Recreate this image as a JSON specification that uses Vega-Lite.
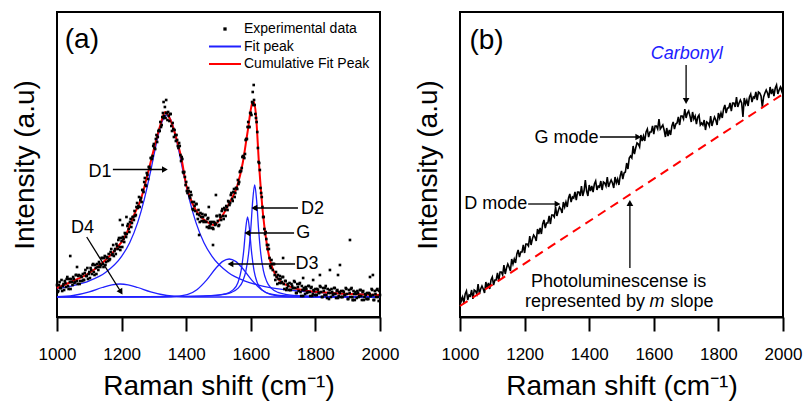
{
"$schema": "https://vega.github.io/schema/vega-lite/v6.json",
"background": "white",
"padding": {"left": 10, "top": 11, "right": 0, "bottom": 0},
"spacing": 13,
"config": {
  "font": "Liberation Sans",
  "view": {"stroke": "black", "strokeWidth": 2},
  "axis": {"grid": false, "domainColor": "black", "domainWidth": 2, "tickColor": "black", "tickWidth": 2, "labelColor": "black", "titleColor": "black", "labelFont": "Liberation Sans", "titleFont": "Liberation Sans", "titleFontWeight": "normal"},
  "legend": {"labelFont": "Liberation Sans"},
  "text": {"font": "Liberation Sans"}
},
"datasets": {
  "fits": [
    {"peak":"D1","x":1000,"y":8.4},{"peak":"D1","x":1050,"y":11.4},{"peak":"D1","x":1100,"y":16.2},{"peak":"D1","x":1150,"y":24.5},{"peak":"D1","x":1200,"y":40.6},{"peak":"D1","x":1225,"y":54.3},{"peak":"D1","x":1250,"y":74.6},{"peak":"D1","x":1270,"y":97.3},{"peak":"D1","x":1290,"y":126},{"peak":"D1","x":1310,"y":157},{"peak":"D1","x":1325,"y":175},{"peak":"D1","x":1333,"y":180},{"peak":"D1","x":1340,"y":182},{"peak":"D1","x":1347,"y":180},{"peak":"D1","x":1355,"y":175},{"peak":"D1","x":1370,"y":157},{"peak":"D1","x":1390,"y":126},{"peak":"D1","x":1410,"y":97.3},{"peak":"D1","x":1430,"y":74.6},{"peak":"D1","x":1455,"y":54.3},{"peak":"D1","x":1480,"y":40.6},{"peak":"D1","x":1530,"y":24.5},{"peak":"D1","x":1580,"y":16.2},{"peak":"D1","x":1630,"y":11.4},{"peak":"D1","x":1680,"y":8.4},{"peak":"D1","x":1750,"y":5.9},{"peak":"D1","x":1850,"y":3.9},{"peak":"D1","x":2000,"y":2.3},
    {"peak":"D2","x":1000,"y":0.1},{"peak":"D2","x":1400,"y":0.56},{"peak":"D2","x":1500,"y":1.97},{"peak":"D2","x":1540,"y":4.67},{"peak":"D2","x":1560,"y":8.6},{"peak":"D2","x":1575,"y":15.8},{"peak":"D2","x":1585,"y":26.4},{"peak":"D2","x":1593,"y":43},{"peak":"D2","x":1600,"y":68.3},{"peak":"D2","x":1606,"y":96.6},{"peak":"D2","x":1612,"y":112},{"peak":"D2","x":1618,"y":96.6},{"peak":"D2","x":1624,"y":68.3},{"peak":"D2","x":1631,"y":43},{"peak":"D2","x":1639,"y":26.4},{"peak":"D2","x":1649,"y":15.8},{"peak":"D2","x":1664,"y":8.6},{"peak":"D2","x":1684,"y":4.67},{"peak":"D2","x":1724,"y":1.97},{"peak":"D2","x":1800,"y":0.71},{"peak":"D2","x":2000,"y":0.17},
    {"peak":"G","x":1000,"y":0.05},{"peak":"G","x":1400,"y":0.43},{"peak":"G","x":1480,"y":1.28},{"peak":"G","x":1520,"y":3.08},{"peak":"G","x":1545,"y":7.1},{"peak":"G","x":1560,"y":14.3},{"peak":"G","x":1570,"y":26.3},{"peak":"G","x":1578,"y":46.1},{"peak":"G","x":1584,"y":67.6},{"peak":"G","x":1590,"y":80},{"peak":"G","x":1596,"y":67.6},{"peak":"G","x":1602,"y":46.1},{"peak":"G","x":1610,"y":26.3},{"peak":"G","x":1620,"y":14.3},{"peak":"G","x":1635,"y":7.1},{"peak":"G","x":1660,"y":3.08},{"peak":"G","x":1700,"y":1.28},{"peak":"G","x":1800,"y":0.35},{"peak":"G","x":2000,"y":0.09},
    {"peak":"D3","x":1000,"y":0},{"peak":"D3","x":1300,"y":0},{"peak":"D3","x":1353,"y":0.18},{"peak":"D3","x":1403,"y":2.3},{"peak":"D3","x":1433,"y":7.3},{"peak":"D3","x":1463,"y":16.9},{"peak":"D3","x":1493,"y":29.2},{"peak":"D3","x":1513,"y":35.6},{"peak":"D3","x":1533,"y":38},{"peak":"D3","x":1553,"y":35.6},{"peak":"D3","x":1573,"y":29.2},{"peak":"D3","x":1603,"y":16.9},{"peak":"D3","x":1633,"y":7.3},{"peak":"D3","x":1663,"y":2.3},{"peak":"D3","x":1713,"y":0.18},{"peak":"D3","x":1800,"y":0},{"peak":"D3","x":2000,"y":0},
    {"peak":"D4","x":1000,"y":0.27},{"peak":"D4","x":1050,"y":1.5},{"peak":"D4","x":1100,"y":5.2},{"peak":"D4","x":1140,"y":9.5},{"peak":"D4","x":1170,"y":12.2},{"peak":"D4","x":1195,"y":13},{"peak":"D4","x":1220,"y":12.2},{"peak":"D4","x":1250,"y":9.5},{"peak":"D4","x":1290,"y":5.2},{"peak":"D4","x":1340,"y":1.5},{"peak":"D4","x":1390,"y":0.27},{"peak":"D4","x":1450,"y":0.02},{"peak":"D4","x":2000,"y":0}
  ],
  "cumul": [
    {"x":1000,"y":9},{"x":1050,"y":16},{"x":1100,"y":24},{"x":1140,"y":34},{"x":1180,"y":47},{"x":1210,"y":60},{"x":1240,"y":83},{"x":1260,"y":98},{"x":1280,"y":122},{"x":1300,"y":148},{"x":1320,"y":172},{"x":1335,"y":185},{"x":1350,"y":178},{"x":1370,"y":158},{"x":1385,"y":139},{"x":1400,"y":112},{"x":1420,"y":93},{"x":1440,"y":82},{"x":1465,"y":75},{"x":1485,"y":72},{"x":1505,"y":78},{"x":1535,"y":95},{"x":1557,"y":110},{"x":1575,"y":134},{"x":1590,"y":165},{"x":1605,"y":194},{"x":1610,"y":195},{"x":1616,"y":182},{"x":1625,"y":135},{"x":1638,"y":82},{"x":1650,"y":52},{"x":1660,"y":36},{"x":1680,"y":20},{"x":1710,"y":12},{"x":1760,"y":7},{"x":1850,"y":4},{"x":1950,"y":2.5},{"x":2000,"y":2}
  ],
  "expA": [
    {"x":1000,"y":12},{"x":1004,"y":6},{"x":1008,"y":15},{"x":1012,"y":9},{"x":1016,"y":6},{"x":1020,"y":13},{"x":1024,"y":16},{"x":1028,"y":10},{"x":1032,"y":20},{"x":1036,"y":8},{"x":1040,"y":15},{"x":1044,"y":18},{"x":1048,"y":12},{"x":1052,"y":18},{"x":1056,"y":15},{"x":1060,"y":22},{"x":1064,"y":13},{"x":1068,"y":22},{"x":1072,"y":16},{"x":1076,"y":20},{"x":1080,"y":23},{"x":1084,"y":17},{"x":1088,"y":27},{"x":1092,"y":21},{"x":1096,"y":18},{"x":1100,"y":25},{"x":1104,"y":29},{"x":1108,"y":23},{"x":1112,"y":33},{"x":1116,"y":22},{"x":1120,"y":29},{"x":1124,"y":33},{"x":1128,"y":27},{"x":1132,"y":33},{"x":1136,"y":32},{"x":1140,"y":39},{"x":1144,"y":30},{"x":1148,"y":41},{"x":1152,"y":35},{"x":1156,"y":39},{"x":1160,"y":43},{"x":1164,"y":38},{"x":1168,"y":48},{"x":1172,"y":43},{"x":1176,"y":41},{"x":1180,"y":48},{"x":1184,"y":53},{"x":1188,"y":48},{"x":1192,"y":59},{"x":1196,"y":47},{"x":1200,"y":56},{"x":1204,"y":60},{"x":1208,"y":55},{"x":1212,"y":63},{"x":1216,"y":63},{"x":1220,"y":73},{"x":1224,"y":65},{"x":1228,"y":78},{"x":1232,"y":74},{"x":1236,"y":80},{"x":1240,"y":86},{"x":1244,"y":82},{"x":1248,"y":94},{"x":1252,"y":91},{"x":1256,"y":90},{"x":1260,"y":99},{"x":1264,"y":107},{"x":1268,"y":105},{"x":1272,"y":119},{"x":1276,"y":111},{"x":1280,"y":122},{"x":1284,"y":130},{"x":1288,"y":128},{"x":1292,"y":139},{"x":1296,"y":141},{"x":1300,"y":153},{"x":1304,"y":148},{"x":1308,"y":162},{"x":1312,"y":160},{"x":1316,"y":167},{"x":1320,"y":175},{"x":1324,"y":172},{"x":1328,"y":184},{"x":1332,"y":181},{"x":1336,"y":179},{"x":1340,"y":184},{"x":1344,"y":185},{"x":1348,"y":176},{"x":1352,"y":183},{"x":1356,"y":166},{"x":1360,"y":168},{"x":1364,"y":167},{"x":1368,"y":156},{"x":1372,"y":157},{"x":1376,"y":149},{"x":1380,"y":151},{"x":1384,"y":136},{"x":1388,"y":138},{"x":1392,"y":124},{"x":1396,"y":120},{"x":1400,"y":115},{"x":1404,"y":104},{"x":1408,"y":106},{"x":1412,"y":99},{"x":1416,"y":102},{"x":1420,"y":88},{"x":1424,"y":95},{"x":1428,"y":86},{"x":1432,"y":93},{"x":1436,"y":78},{"x":1440,"y":82},{"x":1444,"y":84},{"x":1448,"y":76},{"x":1452,"y":80},{"x":1456,"y":76},{"x":1460,"y":82},{"x":1464,"y":70},{"x":1468,"y":79},{"x":1472,"y":71},{"x":1476,"y":73},{"x":1480,"y":75},{"x":1484,"y":68},{"x":1488,"y":74},{"x":1492,"y":73},{"x":1496,"y":81},{"x":1500,"y":71},{"x":1504,"y":82},{"x":1508,"y":77},{"x":1512,"y":88},{"x":1516,"y":78},{"x":1520,"y":87},{"x":1524,"y":91},{"x":1528,"y":87},{"x":1532,"y":95},{"x":1536,"y":94},{"x":1540,"y":104},{"x":1544,"y":96},{"x":1548,"y":108},{"x":1552,"y":104},{"x":1556,"y":109},{"x":1560,"y":117},{"x":1564,"y":115},{"x":1568,"y":126},{"x":1572,"y":129},{"x":1576,"y":141},{"x":1580,"y":139},{"x":1584,"y":157},{"x":1588,"y":158},{"x":1592,"y":175},{"x":1596,"y":170},{"x":1600,"y":184},{"x":1604,"y":195},{"x":1608,"y":192},{"x":1612,"y":192},{"x":1616,"y":179},{"x":1620,"y":165},{"x":1624,"y":135},{"x":1628,"y":127},{"x":1632,"y":104},{"x":1636,"y":90},{"x":1640,"y":80},{"x":1644,"y":63},{"x":1648,"y":58},{"x":1652,"y":48},{"x":1656,"y":48},{"x":1660,"y":31},{"x":1664,"y":37},{"x":1668,"y":27},{"x":1672,"y":33},{"x":1676,"y":17},{"x":1680,"y":20},{"x":1684,"y":22},{"x":1688,"y":14},{"x":1692,"y":18},{"x":1696,"y":15},{"x":1700,"y":20},{"x":1704,"y":8},{"x":1708,"y":16},{"x":1712,"y":9},{"x":1716,"y":11},{"x":1720,"y":14},{"x":1724,"y":7},{"x":1728,"y":11},{"x":1732,"y":9},{"x":1736,"y":15},{"x":1740,"y":4},{"x":1744,"y":13},{"x":1748,"y":6},{"x":1752,"y":14},{"x":1756,"y":1},{"x":1760,"y":7},{"x":1764,"y":9},{"x":1768,"y":3},{"x":1772,"y":8},{"x":1776,"y":5},{"x":1780,"y":11},{"x":1784,"y":1},{"x":1788,"y":10},{"x":1792,"y":3},{"x":1796,"y":6},{"x":1800,"y":8},{"x":1804,"y":2},{"x":1808,"y":7},{"x":1812,"y":4},{"x":1816,"y":10},{"x":1820,"y":0},{"x":1824,"y":9},{"x":1828,"y":2},{"x":1832,"y":11},{"x":1836,"y":-1},{"x":1840,"y":4},{"x":1844,"y":7},{"x":1848,"y":0},{"x":1852,"y":5},{"x":1856,"y":3},{"x":1860,"y":9},{"x":1864,"y":-1},{"x":1868,"y":7},{"x":1872,"y":1},{"x":1876,"y":4},{"x":1880,"y":6},{"x":1884,"y":0},{"x":1888,"y":5},{"x":1892,"y":2},{"x":1896,"y":8},{"x":1900,"y":-2},{"x":1904,"y":7},{"x":1908,"y":0},{"x":1912,"y":9},{"x":1916,"y":-3},{"x":1920,"y":3},{"x":1924,"y":5},{"x":1928,"y":-1},{"x":1932,"y":4},{"x":1936,"y":1},{"x":1940,"y":7},{"x":1944,"y":-3},{"x":1948,"y":6},{"x":1952,"y":0},{"x":1956,"y":2},{"x":1960,"y":4},{"x":1964,"y":-2},{"x":1968,"y":3},{"x":1972,"y":1},{"x":1976,"y":7},{"x":1980,"y":-3},{"x":1984,"y":6},{"x":1988,"y":0},{"x":1992,"y":8},{"x":1996,"y":-4},{"x":2000,"y":2},
    {"x":1002,"y":5},{"x":1006,"y":12},{"x":1010,"y":9},{"x":1014,"y":17},{"x":1018,"y":11},{"x":1022,"y":7},{"x":1026,"y":14},{"x":1030,"y":18},{"x":1034,"y":11},{"x":1038,"y":18},{"x":1042,"y":8},{"x":1046,"y":15},{"x":1050,"y":20},{"x":1054,"y":14},{"x":1058,"y":22},{"x":1062,"y":16},{"x":1066,"y":21},{"x":1070,"y":13},{"x":1074,"y":21},{"x":1078,"y":16},{"x":1082,"y":17},{"x":1086,"y":24},{"x":1090,"y":21},{"x":1094,"y":29},{"x":1098,"y":23},{"x":1102,"y":19},{"x":1106,"y":27},{"x":1110,"y":32},{"x":1114,"y":25},{"x":1118,"y":32},{"x":1122,"y":23},{"x":1126,"y":30},{"x":1130,"y":35},{"x":1134,"y":30},{"x":1138,"y":39},{"x":1142,"y":33},{"x":1146,"y":39},{"x":1150,"y":32},{"x":1154,"y":40},{"x":1158,"y":36},{"x":1162,"y":37},{"x":1166,"y":45},{"x":1170,"y":42},{"x":1174,"y":52},{"x":1178,"y":46},{"x":1182,"y":43},{"x":1186,"y":51},{"x":1190,"y":57},{"x":1194,"y":50},{"x":1198,"y":59},{"x":1202,"y":50},{"x":1206,"y":58},{"x":1210,"y":64},{"x":1214,"y":60},{"x":1218,"y":71},{"x":1222,"y":68},{"x":1226,"y":75},{"x":1230,"y":70},{"x":1234,"y":80},{"x":1238,"y":77},{"x":1242,"y":81},{"x":1246,"y":90},{"x":1250,"y":89},{"x":1254,"y":100},{"x":1258,"y":97},{"x":1262,"y":95},{"x":1266,"y":107},{"x":1270,"y":115},{"x":1274,"y":112},{"x":1278,"y":124},{"x":1282,"y":118},{"x":1286,"y":130},{"x":1290,"y":139},{"x":1294,"y":138},{"x":1298,"y":151},{"x":1302,"y":149},{"x":1306,"y":158},{"x":1310,"y":155},{"x":1314,"y":166},{"x":1318,"y":166},{"x":1322,"y":170},{"x":1326,"y":180},{"x":1330,"y":179},{"x":1334,"y":190},{"x":1338,"y":184},{"x":1342,"y":177},{"x":1346,"y":181},{"x":1350,"y":183},{"x":1354,"y":171},{"x":1358,"y":174},{"x":1362,"y":160},{"x":1366,"y":162},{"x":1370,"y":162},{"x":1374,"y":151},{"x":1378,"y":154},{"x":1382,"y":142},{"x":1386,"y":140},{"x":1390,"y":125},{"x":1394,"y":125},{"x":1398,"y":112},{"x":1402,"y":106},{"x":1406,"y":109},{"x":1410,"y":101},{"x":1414,"y":105},{"x":1418,"y":95},{"x":1422,"y":87},{"x":1426,"y":91},{"x":1430,"y":93},{"x":1434,"y":83},{"x":1438,"y":87},{"x":1442,"y":75},{"x":1446,"y":80},{"x":1450,"y":83},{"x":1454,"y":75},{"x":1458,"y":82},{"x":1462,"y":75},{"x":1466,"y":78},{"x":1470,"y":69},{"x":1474,"y":75},{"x":1478,"y":69},{"x":1482,"y":69},{"x":1486,"y":75},{"x":1490,"y":72},{"x":1494,"y":81},{"x":1498,"y":76},{"x":1502,"y":72},{"x":1506,"y":80},{"x":1510,"y":86},{"x":1514,"y":81},{"x":1518,"y":89},{"x":1522,"y":81},{"x":1526,"y":90},{"x":1530,"y":96},{"x":1534,"y":92},{"x":1538,"y":102},{"x":1542,"y":98},{"x":1546,"y":105},{"x":1550,"y":100},{"x":1554,"y":109},{"x":1558,"y":108},{"x":1562,"y":113},{"x":1566,"y":125},{"x":1570,"y":126},{"x":1574,"y":140},{"x":1578,"y":140},{"x":1582,"y":143},{"x":1586,"y":158},{"x":1590,"y":170},{"x":1594,"y":170},{"x":1598,"y":184},{"x":1602,"y":182},{"x":1606,"y":194},{"x":1610,"y":197},{"x":1614,"y":183},{"x":1618,"y":175},{"x":1622,"y":149},{"x":1626,"y":134},{"x":1630,"y":109},{"x":1634,"y":100},{"x":1638,"y":80},{"x":1642,"y":68},{"x":1646,"y":65},{"x":1650,"y":52},{"x":1654,"y":52},{"x":1658,"y":39},{"x":1662,"y":29},{"x":1666,"y":33},{"x":1670,"y":33},{"x":1674,"y":22},{"x":1678,"y":25},{"x":1682,"y":13},{"x":1686,"y":18},{"x":1690,"y":21},{"x":1694,"y":14},{"x":1698,"y":20},{"x":1702,"y":13},{"x":1706,"y":16},{"x":1710,"y":7},{"x":1714,"y":13},{"x":1718,"y":7},{"x":1722,"y":7},{"x":1726,"y":13},{"x":1730,"y":9},{"x":1734,"y":16},{"x":1738,"y":9},{"x":1742,"y":4},{"x":1746,"y":10},{"x":1750,"y":13},{"x":1754,"y":5},{"x":1758,"y":11},{"x":1762,"y":1},{"x":1766,"y":7},{"x":1770,"y":10},{"x":1774,"y":4},{"x":1778,"y":11},{"x":1782,"y":5},{"x":1786,"y":9},{"x":1790,"y":1},{"x":1794,"y":7},{"x":1798,"y":2},{"x":1802,"y":2},{"x":1806,"y":8},{"x":1810,"y":4},{"x":1814,"y":11},{"x":1818,"y":5},{"x":1822,"y":0},{"x":1826,"y":6},{"x":1830,"y":9},{"x":1834,"y":2},{"x":1838,"y":8},{"x":1842,"y":-2},{"x":1846,"y":4},{"x":1850,"y":8},{"x":1854,"y":2},{"x":1858,"y":9},{"x":1862,"y":3},{"x":1866,"y":6},{"x":1870,"y":-1},{"x":1874,"y":5},{"x":1878,"y":0},{"x":1882,"y":0},{"x":1886,"y":6},{"x":1890,"y":2},{"x":1894,"y":9},{"x":1898,"y":3},{"x":1902,"y":-2},{"x":1906,"y":4},{"x":1910,"y":8},{"x":1914,"y":0},{"x":1918,"y":6},{"x":1922,"y":-3},{"x":1926,"y":3},{"x":1930,"y":6},{"x":1934,"y":0},{"x":1938,"y":7},{"x":1942,"y":1},{"x":1946,"y":5},{"x":1950,"y":-3},{"x":1954,"y":3},{"x":1958,"y":-2},{"x":1962,"y":-2},{"x":1966,"y":4},{"x":1970,"y":1},{"x":1974,"y":8},{"x":1978,"y":2},{"x":1982,"y":-3},{"x":1986,"y":3},{"x":1990,"y":7},{"x":1994,"y":0},{"x":1998,"y":6},
    {"x":1041,"y":41},{"x":1062,"y":30},{"x":1195,"y":77},{"x":1203,"y":72},{"x":1215,"y":80},{"x":1483,"y":52},{"x":1492,"y":102},{"x":1330,"y":195},{"x":1338,"y":197},{"x":1609,"y":212},{"x":1606,"y":205},{"x":1700,"y":39},{"x":1762,"y":19},{"x":1793,"y":17},{"x":1814,"y":22},{"x":1845,"y":27},{"x":1870,"y":22},{"x":1876,"y":32},{"x":1907,"y":57},{"x":1916,"y":-3},{"x":1969,"y":20},{"x":1978,"y":22},{"x":1440,"y":62},{"x":1470,"y":90}
  ],
  "lineB": [
    {"x":1000,"y":22},{"x":1004,"y":16},{"x":1008,"y":20},{"x":1012,"y":14},{"x":1016,"y":23},{"x":1020,"y":26},{"x":1024,"y":17},{"x":1028,"y":22},{"x":1032,"y":21},{"x":1036,"y":27},{"x":1040,"y":18},{"x":1044,"y":27},{"x":1048,"y":26},{"x":1052,"y":23},{"x":1056,"y":33},{"x":1060,"y":23},{"x":1064,"y":28},{"x":1068,"y":31},{"x":1072,"y":28},{"x":1076,"y":24},{"x":1080,"y":35},{"x":1084,"y":29},{"x":1088,"y":34},{"x":1092,"y":28},{"x":1096,"y":37},{"x":1100,"y":40},{"x":1104,"y":32},{"x":1108,"y":37},{"x":1112,"y":37},{"x":1116,"y":44},{"x":1120,"y":36},{"x":1124,"y":45},{"x":1128,"y":45},{"x":1132,"y":42},{"x":1136,"y":52},{"x":1140,"y":43},{"x":1144,"y":49},{"x":1148,"y":53},{"x":1152,"y":50},{"x":1156,"y":46},{"x":1160,"y":58},{"x":1164,"y":53},{"x":1168,"y":58},{"x":1172,"y":54},{"x":1176,"y":63},{"x":1180,"y":67},{"x":1184,"y":60},{"x":1188,"y":65},{"x":1192,"y":65},{"x":1196,"y":72},{"x":1200,"y":64},{"x":1204,"y":73},{"x":1208,"y":73},{"x":1212,"y":71},{"x":1216,"y":81},{"x":1220,"y":72},{"x":1224,"y":78},{"x":1228,"y":82},{"x":1232,"y":80},{"x":1236,"y":76},{"x":1240,"y":88},{"x":1244,"y":83},{"x":1248,"y":89},{"x":1252,"y":83},{"x":1256,"y":93},{"x":1260,"y":97},{"x":1264,"y":89},{"x":1268,"y":94},{"x":1272,"y":94},{"x":1276,"y":101},{"x":1280,"y":93},{"x":1284,"y":102},{"x":1288,"y":102},{"x":1292,"y":100},{"x":1296,"y":110},{"x":1300,"y":101},{"x":1304,"y":106},{"x":1308,"y":110},{"x":1312,"y":108},{"x":1316,"y":104},{"x":1320,"y":115},{"x":1324,"y":110},{"x":1328,"y":115},{"x":1332,"y":110},{"x":1336,"y":119},{"x":1340,"y":123},{"x":1344,"y":115},{"x":1348,"y":120},{"x":1352,"y":119},{"x":1356,"y":125},{"x":1360,"y":117},{"x":1364,"y":125},{"x":1368,"y":125},{"x":1372,"y":121},{"x":1376,"y":131},{"x":1380,"y":121},{"x":1384,"y":126},{"x":1388,"y":137},{"x":1392,"y":126},{"x":1396,"y":121},{"x":1400,"y":132},{"x":1404,"y":126},{"x":1408,"y":131},{"x":1412,"y":125},{"x":1416,"y":133},{"x":1420,"y":136},{"x":1424,"y":127},{"x":1428,"y":131},{"x":1432,"y":130},{"x":1436,"y":136},{"x":1440,"y":127},{"x":1444,"y":135},{"x":1448,"y":134},{"x":1452,"y":131},{"x":1456,"y":140},{"x":1460,"y":130},{"x":1464,"y":134},{"x":1468,"y":137},{"x":1472,"y":134},{"x":1476,"y":129},{"x":1480,"y":140},{"x":1484,"y":134},{"x":1488,"y":138},{"x":1492,"y":132},{"x":1496,"y":141},{"x":1500,"y":146},{"x":1504,"y":138},{"x":1508,"y":144},{"x":1512,"y":145},{"x":1516,"y":154},{"x":1520,"y":148},{"x":1524,"y":159},{"x":1528,"y":161},{"x":1532,"y":159},{"x":1536,"y":171},{"x":1540,"y":163},{"x":1544,"y":169},{"x":1548,"y":174},{"x":1552,"y":173},{"x":1556,"y":170},{"x":1560,"y":182},{"x":1564,"y":176},{"x":1568,"y":181},{"x":1572,"y":176},{"x":1576,"y":185},{"x":1580,"y":188},{"x":1584,"y":180},{"x":1588,"y":185},{"x":1592,"y":185},{"x":1596,"y":191},{"x":1600,"y":183},{"x":1604,"y":191},{"x":1608,"y":191},{"x":1612,"y":188},{"x":1616,"y":198},{"x":1620,"y":188},{"x":1624,"y":190},{"x":1628,"y":192},{"x":1632,"y":187},{"x":1636,"y":180},{"x":1640,"y":189},{"x":1644,"y":181},{"x":1648,"y":187},{"x":1652,"y":182},{"x":1656,"y":191},{"x":1660,"y":195},{"x":1664,"y":188},{"x":1668,"y":193},{"x":1672,"y":194},{"x":1676,"y":200},{"x":1680,"y":192},{"x":1684,"y":201},{"x":1688,"y":201},{"x":1692,"y":198},{"x":1696,"y":208},{"x":1700,"y":199},{"x":1704,"y":204},{"x":1708,"y":206},{"x":1712,"y":201},{"x":1716,"y":195},{"x":1720,"y":205},{"x":1724,"y":198},{"x":1728,"y":201},{"x":1732,"y":193},{"x":1736,"y":200},{"x":1740,"y":202},{"x":1744,"y":192},{"x":1748,"y":194},{"x":1752,"y":192},{"x":1756,"y":197},{"x":1760,"y":187},{"x":1764,"y":195},{"x":1768,"y":194},{"x":1772,"y":191},{"x":1776,"y":201},{"x":1780,"y":191},{"x":1784,"y":196},{"x":1788,"y":200},{"x":1792,"y":197},{"x":1796,"y":192},{"x":1800,"y":204},{"x":1804,"y":199},{"x":1808,"y":204},{"x":1812,"y":199},{"x":1816,"y":208},{"x":1820,"y":212},{"x":1824,"y":204},{"x":1828,"y":209},{"x":1832,"y":209},{"x":1836,"y":214},{"x":1840,"y":206},{"x":1844,"y":214},{"x":1848,"y":214},{"x":1852,"y":210},{"x":1856,"y":220},{"x":1860,"y":210},{"x":1864,"y":214},{"x":1868,"y":217},{"x":1872,"y":214},{"x":1876,"y":200},{"x":1880,"y":219},{"x":1884,"y":213},{"x":1888,"y":217},{"x":1892,"y":211},{"x":1896,"y":220},{"x":1900,"y":223},{"x":1904,"y":215},{"x":1908,"y":220},{"x":1912,"y":219},{"x":1916,"y":225},{"x":1920,"y":217},{"x":1924,"y":225},{"x":1928,"y":224},{"x":1932,"y":221},{"x":1936,"y":210},{"x":1940,"y":220},{"x":1944,"y":224},{"x":1948,"y":227},{"x":1952,"y":224},{"x":1956,"y":219},{"x":1960,"y":230},{"x":1964,"y":223},{"x":1968,"y":228},{"x":1972,"y":221},{"x":1976,"y":229},{"x":1980,"y":232},{"x":1984,"y":223},{"x":1988,"y":227},{"x":1992,"y":230},{"x":1996,"y":226},{"x":2000,"y":232}
  ],
  "dashB": [{"x":1000,"y":11},{"x":2000,"y":223}],
  "arrowsA": [
    {"x":1173,"y":127.5,"x2":1334,"y2":127.5,"angle":90},
    {"x":1746,"y":89,"x2":1611,"y2":89,"angle":270},
    {"x":1734,"y":64,"x2":1589,"y2":64,"angle":270},
    {"x":1737,"y":33,"x2":1537,"y2":33,"angle":270},
    {"x":1092,"y":60,"x2":1198,"y2":5,"angle":148}
  ],
  "annA": [
    {"label":"D1","x":1133,"y":125},{"label":"D2","x":1791,"y":88},{"label":"G","x":1762,"y":64},{"label":"D3","x":1774,"y":33},{"label":"D4","x":1079,"y":69}
  ],
  "arrowsB": [
    {"x":1700,"y":252,"x2":1700,"y2":216,"angle":180},
    {"x":1433,"y":180,"x2":1552,"y2":180,"angle":90},
    {"x":1211,"y":113,"x2":1302,"y2":113,"angle":90},
    {"x":1526,"y":49,"x2":1526,"y2":114,"angle":0}
  ],
  "annB": [
    {"label":"G mode","x":1330,"y":179.5},{"label":"D mode","x":1111,"y":113},{"label":"Photoluminescense is","x":1491,"y":35}
  ]
},
"hconcat": [
  {
    "width": 323, "height": 305,
    "layer": [
      {
        "data": {"name": "fits"},
        "mark": {"type": "line", "strokeWidth": 1.3, "interpolate": "monotone"},
        "encoding": {
          "x": {"field": "x", "type": "quantitative", "scale": {"domain": [1000, 2000], "nice": false, "zero": false},
                "axis": {"values": [1000,1100,1200,1300,1400,1500,1600,1700,1800,1900,2000], "format": "d", "labelExpr": "datum.value % 200 === 0 ? datum.label : ''", "tickSize": {"condition": {"test": "datum.value % 200 === 0", "value": 14}, "value": 8}, "labelFontSize": 17, "labelPadding": 15, "labelFlush": false, "labelOverlap": false, "title": "Raman shift (cm⁻¹)", "titleFontSize": 28, "titlePadding": 10}},
          "y": {"field": "y", "type": "quantitative", "scale": {"domain": [-20, 285], "nice": false, "zero": false},
                "axis": {"ticks": false, "labels": false, "domain": false, "title": "Intensity (a.u)", "titleFontSize": 28, "titlePadding": 18}},
          "detail": {"field": "peak"},
          "color": {"datum": "Fit peak", "scale": {"domain": ["Experimental data", "Fit peak", "Cumulative Fit Peak"], "range": ["black", "#2020ff", "#ff0000"]},
                    "legend": {"title": null, "orient": "none", "legendX": 159, "legendY": 8, "labelFont": "Liberation Sans", "labelFontSize": 14, "labelColor": "black", "symbolSize": 256, "symbolStrokeWidth": 2, "rowPadding": 1.5, "labelOffset": 10, "padding": 0}}
        }
      },
      {
        "data": {"name": "cumul"},
        "mark": {"type": "line", "strokeWidth": 2, "interpolate": "monotone"},
        "encoding": {
          "x": {"field": "x", "type": "quantitative"},
          "y": {"field": "y", "type": "quantitative"},
          "color": {"datum": "Cumulative Fit Peak"}
        }
      },
      {
        "data": {"name": "expA"},
        "mark": {"type": "point", "filled": false, "strokeWidth": 1.5, "size": 200, "opacity": 1},
        "encoding": {
          "x": {"field": "x", "type": "quantitative"},
          "y": {"field": "y", "type": "quantitative"},
          "color": {"datum": "Experimental data"},
          "shape": {"datum": "Experimental data", "scale": {"domain": ["Experimental data", "Fit peak", "Cumulative Fit Peak"], "range": ["M-0.08,-0.08H0.08V0.08H-0.08Z", "M-2,0H2", "M-2,0H2"]},
                    "legend": {"title": null, "orient": "none", "legendX": 159, "legendY": 8, "labelFont": "Liberation Sans", "labelFontSize": 14, "labelColor": "black", "symbolSize": 256, "symbolStrokeWidth": 2, "rowPadding": 1.5, "labelOffset": 10, "padding": 0}}
        }
      },
      {
        "data": {"name": "arrowsA"},
        "mark": {"type": "rule", "color": "black", "strokeWidth": 1.3},
        "encoding": {
          "x": {"field": "x", "type": "quantitative"},
          "y": {"field": "y", "type": "quantitative"},
          "x2": {"field": "x2"},
          "y2": {"field": "y2"}
        }
      },
      {
        "data": {"name": "arrowsA"},
        "mark": {"type": "point", "shape": "triangle-up", "filled": true, "color": "black", "size": 45, "opacity": 1},
        "encoding": {
          "x": {"field": "x2", "type": "quantitative"},
          "y": {"field": "y2", "type": "quantitative"},
          "angle": {"field": "angle", "type": "quantitative", "scale": null}
        }
      },
      {
        "data": {"name": "annA"},
        "mark": {"type": "text", "fontSize": 18, "color": "black", "align": "center", "baseline": "middle"},
        "encoding": {
          "x": {"field": "x", "type": "quantitative"},
          "y": {"field": "y", "type": "quantitative"},
          "text": {"field": "label"}
        }
      },
      {
        "data": {"values": [{"label": "(a)", "x": 1077, "y": 257}]},
        "mark": {"type": "text", "fontSize": 28, "color": "black", "align": "center", "baseline": "middle"},
        "encoding": {
          "x": {"field": "x", "type": "quantitative"},
          "y": {"field": "y", "type": "quantitative"},
          "text": {"field": "label"}
        }
      }
    ]
  },
  {
    "width": 323, "height": 305,
    "layer": [
      {
        "data": {"name": "lineB"},
        "mark": {"type": "line", "strokeWidth": 1.6, "color": "black"},
        "encoding": {
          "x": {"field": "x", "type": "quantitative", "scale": {"domain": [1000, 2000], "nice": false, "zero": false},
                "axis": {"values": [1000,1100,1200,1300,1400,1500,1600,1700,1800,1900,2000], "format": "d", "labelExpr": "datum.value % 200 === 0 ? datum.label : ''", "tickSize": {"condition": {"test": "datum.value % 200 === 0", "value": 14}, "value": 8}, "labelFontSize": 17, "labelPadding": 15, "labelFlush": false, "labelOverlap": false, "title": "Raman shift (cm⁻¹)", "titleFontSize": 28, "titlePadding": 10}},
          "y": {"field": "y", "type": "quantitative", "scale": {"domain": [0, 305], "nice": false, "zero": false},
                "axis": {"ticks": false, "labels": false, "domain": false, "title": "Intensity (a.u)", "titleFontSize": 28, "titlePadding": 18}}
        }
      },
      {
        "data": {"name": "dashB"},
        "mark": {"type": "line", "strokeWidth": 2, "color": "#ff0000", "strokeDash": [9, 6]},
        "encoding": {
          "x": {"field": "x", "type": "quantitative"},
          "y": {"field": "y", "type": "quantitative"}
        }
      },
      {
        "data": {"name": "arrowsB"},
        "mark": {"type": "rule", "color": "black", "strokeWidth": 1.3},
        "encoding": {
          "x": {"field": "x", "type": "quantitative"},
          "y": {"field": "y", "type": "quantitative"},
          "x2": {"field": "x2"},
          "y2": {"field": "y2"}
        }
      },
      {
        "data": {"name": "arrowsB"},
        "mark": {"type": "point", "shape": "triangle-up", "filled": true, "color": "black", "size": 45, "opacity": 1},
        "encoding": {
          "x": {"field": "x2", "type": "quantitative"},
          "y": {"field": "y2", "type": "quantitative"},
          "angle": {"field": "angle", "type": "quantitative", "scale": null}
        }
      },
      {
        "data": {"name": "annB"},
        "mark": {"type": "text", "fontSize": 18, "color": "black", "align": "center", "baseline": "middle"},
        "encoding": {
          "x": {"field": "x", "type": "quantitative"},
          "y": {"field": "y", "type": "quantitative"},
          "text": {"field": "label"}
        }
      },
      {
        "data": {"values": [{"label": "represented by", "x": 1573, "y": 15}]},
        "mark": {"type": "text", "fontSize": 18, "color": "black", "align": "right", "baseline": "middle"},
        "encoding": {
          "x": {"field": "x", "type": "quantitative"},
          "y": {"field": "y", "type": "quantitative"},
          "text": {"field": "label"}
        }
      },
      {
        "data": {"values": [{"label": "m", "x": 1610, "y": 15}]},
        "mark": {"type": "text", "fontSize": 18, "fontStyle": "italic", "color": "black", "align": "center", "baseline": "middle"},
        "encoding": {
          "x": {"field": "x", "type": "quantitative"},
          "y": {"field": "y", "type": "quantitative"},
          "text": {"field": "label"}
        }
      },
      {
        "data": {"values": [{"label": "slope", "x": 1652, "y": 15}]},
        "mark": {"type": "text", "fontSize": 18, "color": "black", "align": "left", "baseline": "middle"},
        "encoding": {
          "x": {"field": "x", "type": "quantitative"},
          "y": {"field": "y", "type": "quantitative"},
          "text": {"field": "label"}
        }
      },
      {
        "data": {"values": [{"label": "Carbonyl", "x": 1702, "y": 263}]},
        "mark": {"type": "text", "fontSize": 18, "fontStyle": "italic", "color": "#2020ff", "align": "center", "baseline": "middle"},
        "encoding": {
          "x": {"field": "x", "type": "quantitative"},
          "y": {"field": "y", "type": "quantitative"},
          "text": {"field": "label"}
        }
      },
      {
        "data": {"values": [{"label": "(b)", "x": 1082, "y": 276}]},
        "mark": {"type": "text", "fontSize": 28, "color": "black", "align": "center", "baseline": "middle"},
        "encoding": {
          "x": {"field": "x", "type": "quantitative"},
          "y": {"field": "y", "type": "quantitative"},
          "text": {"field": "label"}
        }
      }
    ]
  }
]
}
